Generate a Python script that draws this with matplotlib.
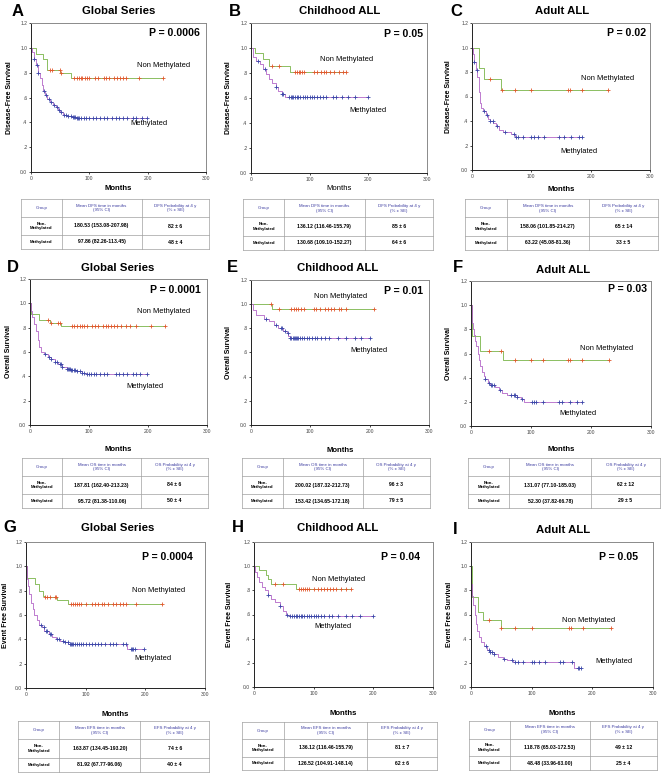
import matplotlib
matplotlib.use('Agg')
import matplotlib.pyplot as plt

plt.rcParams['font.family'] = ['Liberation Sans', 'DejaVu Sans']

# ---- data (months, survival fraction) ----
# each step list: (time of drop, survival after drop); curve starts at 1.0
# censor lists: follow-up times of censored patients (the "+" marks)

# A: disease-free survival, global series
a_non_steps = [(9, .95), (20, .91), (27, .82), (50, .795), (69, .76)]
a_non_cens = [32, 36, 49, 52, 74, 78, 82, 85, 88, 92, 96, 100, 110, 114, 125, 129,
              133, 143, 148, 153, 158, 163, 185, 227]
a_met_steps = [(2, .97), (5, .91), (9, .86), (12, .80), (15, .76), (18, .70), (21, .65),
               (24, .62), (28, .59), (32, .56), (37, .54), (42, .52), (46, .50), (50, .48),
               (55, .46), (62, .45), (70, .44), (78, .435)]
a_met_cens = [5, 10, 12, 22, 25, 30, 34, 40, 44, 48, 52, 56, 60, 64, 68, 72, 74, 76, 78,
              80, 83, 86, 90, 95, 100, 106, 112, 118, 125, 130, 138, 145, 150, 158, 165,
              175, 180, 190, 198]

# B: disease-free survival, childhood ALL
b_non_steps = [(7, .96), (20, .91), (30, .855), (67, .81)]
b_non_cens = [35, 48, 75, 78, 81, 84, 87, 90, 108, 112, 120, 124, 128, 135, 142, 150, 157, 162]
b_met_steps = [(3, .93), (9, .90), (15, .87), (21, .83), (25, .79), (30, .75), (36, .72),
               (42, .69), (46, .66), (52, .63), (58, .61), (64, .605)]
b_met_cens = [12, 24, 42, 52, 55, 65, 68, 70, 72, 75, 78, 80, 84, 88, 92, 96, 100, 104, 108,
              112, 118, 122, 128, 140, 145, 155, 165, 178, 200]

# C: disease-free survival, adult ALL
c_non_steps = [(12, .83), (20, .745), (49, .65)]
c_non_cens = [30, 50, 73, 100, 162, 165, 185, 230]
c_met_steps = [(2, .95), (4, .88), (7, .82), (9, .76), (11, .64), (13, .55), (16, .51),
               (19, .48), (23, .45), (27, .42), (31, .40), (36, .38), (41, .36), (45, .33),
               (53, .31), (66, .29), (73, .27)]
c_met_cens = [4, 8, 21, 25, 31, 35, 42, 55, 70, 74, 77, 86, 100, 104, 112, 122, 147, 155,
              167, 180, 185]

# D: overall survival, global series
d_non_steps = [(1, .91), (15, .865), (34, .835), (52, .815)]
d_non_cens = [30, 36, 48, 50, 72, 75, 80, 84, 88, 92, 96, 105, 110, 115, 124, 128, 132, 137,
              142, 148, 155, 162, 170, 180, 205, 228]
d_met_steps = [(1, .94), (4, .89), (7, .83), (10, .77), (13, .70), (16, .64), (19, .60),
               (24, .58), (30, .56), (36, .54), (42, .52), (48, .50), (55, .48), (62, .46),
               (70, .45), (80, .44), (88, .43), (95, .42)]
d_met_cens = [25, 32, 36, 42, 45, 50, 52, 55, 62, 64, 66, 68, 70, 72, 74, 76, 80, 84, 88, 92,
              96, 100, 104, 108, 112, 118, 125, 130, 145, 150, 158, 165, 175, 180, 186, 198]

# E: overall survival, childhood ALL
e_non_steps = [(35, .958)]
e_non_cens = [34, 48, 68, 72, 76, 80, 84, 90, 107, 110, 117, 125, 130, 135, 140, 148, 152,
              160, 207]
e_met_steps = [(4, .95), (8, .91), (22, .88), (30, .86), (38, .83), (46, .80), (54, .78),
               (60, .76), (63, .74), (65, .72)]
e_met_cens = [25, 42, 50, 53, 58, 62, 66, 68, 70, 72, 74, 76, 78, 80, 83, 86, 90, 94, 98,
              102, 108, 112, 118, 125, 132, 146, 160, 175, 186, 200]

# F: overall survival, adult ALL
f_non_steps = [(1, .748), (15, .623), (53, .546)]
f_non_cens = [30, 50, 73, 100, 120, 162, 165, 185, 230]
f_met_steps = [(1, .92), (2, .85), (3, .80), (5, .75), (7, .70), (9, .66), (11, .60),
               (13, .55), (15, .50), (18, .45), (21, .41), (24, .385), (28, .36), (32, .34),
               (40, .32), (46, .30), (52, .27), (60, .255), (76, .24), (84, .22), (89, .20)]
f_met_cens = [24, 30, 33, 35, 38, 48, 67, 71, 74, 77, 85, 102, 105, 108, 120, 146, 152, 165,
              176, 185]

# G: event free survival, global series
g_non_steps = [(1, .908), (15, .855), (22, .80), (28, .76), (32, .745), (52, .72), (70, .69)]
g_non_cens = [32, 35, 40, 48, 50, 75, 78, 82, 85, 88, 92, 100, 110, 115, 120, 128, 131, 138,
              145, 150, 158, 163, 167, 185, 228]
g_met_steps = [(1, .90), (3, .84), (5, .77), (8, .70), (11, .65), (14, .60), (18, .56),
               (22, .52), (26, .50), (31, .47), (38, .44), (44, .42), (50, .40), (57, .385),
               (64, .375), (71, .365), (170, .32)]
g_met_cens = [25, 30, 33, 36, 40, 42, 52, 55, 62, 66, 70, 73, 75, 77, 79, 82, 85, 88, 92, 96,
              100, 105, 110, 115, 120, 126, 132, 140, 145, 150, 162, 168, 176, 178, 180, 182,
              198]

# H: event free survival, childhood ALL
h_non_steps = [(8, .97), (20, .93), (23, .89), (28, .855), (70, .81)]
h_non_cens = [35, 48, 75, 78, 82, 85, 88, 92, 100, 108, 112, 118, 122, 128, 132, 138, 145,
              155, 162]
h_met_steps = [(2, .95), (5, .91), (9, .87), (14, .83), (19, .80), (23, .76), (29, .73),
               (36, .70), (43, .67), (48, .63), (53, .60), (60, .59)]
h_met_cens = [24, 44, 55, 60, 64, 67, 70, 72, 75, 78, 80, 84, 88, 92, 96, 100, 104, 108, 112,
              118, 125, 130, 140, 155, 165, 178, 200]

# I: event free survival, adult ALL
i_non_steps = [(1, .742), (12, .623), (20, .554), (50, .488)]
i_non_cens = [30, 50, 73, 100, 162, 165, 185, 230]
i_met_steps = [(0.5, .85), (2, .75), (4, .68), (6, .60), (8, .52), (10, .46), (13, .41),
               (17, .37), (21, .34), (26, .31), (32, .29), (38, .27), (45, .25), (52, .235),
               (60, .225), (70, .21), (170, .16)]
i_met_cens = [24, 30, 32, 35, 38, 55, 68, 72, 78, 86, 100, 104, 112, 122, 146, 152, 166, 176,
              178, 181]

letters = ['A', 'B', 'C', 'D', 'E', 'F', 'G', 'H', 'I']
titles = ['Global Series', 'Childhood ALL', 'Adult ALL'] * 3
ylabels = ['Disease-Free Survival'] * 3 + ['Overall Survival'] * 3 + ['Event Free Survival'] * 3
measures = ['DFS'] * 3 + ['OS'] * 3 + ['EFS'] * 3
pvalues = ['0.0006', '0.05', '0.02', '0.0001', '0.01', '0.03', '0.0004', '0.04', '0.05']

mean_non = ['180.53 (153.08-207.98)', '136.12 (116.46-155.79)', '158.06 (101.85-214.27)',
            '187.81 (162.40-213.23)', '200.02 (187.32-212.73)', '131.07 (77.10-185.03)',
            '163.87 (134.45-193.20)', '136.12 (116.46-155.79)', '118.78 (65.03-172.53)']
mean_met = ['97.86 (82.26-113.45)', '130.68 (109.10-152.27)', '63.22 (45.08-81.36)',
            '95.72 (81.38-110.06)', '153.42 (134.65-172.18)', '52.30 (37.82-66.78)',
            '81.92 (67.77-96.06)', '126.52 (104.91-148.14)', '48.48 (33.96-63.00)']
prob_non = ['82 ± 6', '85 ± 6', '65 ± 14', '84 ± 6', '96 ± 3', '62 ± 12', '74 ± 6', '81 ± 7',
            '49 ± 12']
prob_met = ['48 ± 4', '64 ± 6', '33 ± 5', '50 ± 4', '79 ± 5', '29 ± 5', '40 ± 4', '62 ± 6',
            '25 ± 4']

yticks = [0, .2, .4, .6, .8, 1.0, 1.2]
ytick_labels = ['0.0', '.2', '.4', '.6', '.8', '1.0', '1.2']
xticks = [0, 100, 200, 300]

curves = [
    (a_non_steps, a_non_cens, a_met_steps, a_met_cens),
    (b_non_steps, b_non_cens, b_met_steps, b_met_cens),
    (c_non_steps, c_non_cens, c_met_steps, c_met_cens),
    (d_non_steps, d_non_cens, d_met_steps, d_met_cens),
    (e_non_steps, e_non_cens, e_met_steps, e_met_cens),
    (f_non_steps, f_non_cens, f_met_steps, f_met_cens),
    (g_non_steps, g_non_cens, g_met_steps, g_met_cens),
    (h_non_steps, h_non_cens, h_met_steps, h_met_cens),
    (i_non_steps, i_non_cens, i_met_steps, i_met_cens),
]

# ---- layout, in pixels of the 662x775 picture ----
W, H = 662, 775
axes_px = [(31, 23, 206, 172), (251, 23, 427, 173), (472, 23, 650, 170),
           (30, 279, 207, 425), (251, 280, 429, 425), (471, 281, 651, 426),
           (26, 542, 205, 688), (254, 542, 433, 687), (471, 542, 653, 687)]
table_px = [(21, 199, 209, 249), (243, 199, 433, 250), (465, 199, 658, 250),
            (22, 458, 208, 508), (242, 458, 430, 508), (468, 458, 660, 508),
            (18, 721, 209, 772), (242, 722, 437, 770), (469, 721, 657, 770)]
title_px = [(119, 11), (340, 11), (562, 11), (118, 268), (338, 268), (563, 270),
            (118, 528), (338, 528), (563, 530)]
letter_px = [(12, 11), (229, 11), (450, 11), (7, 268), (227, 268), (453, 268),
             (3, 528), (232, 528), (453, 530)]
p_pos = [(.965, .933), (.975, .93), (.98, .93), (.965, .925), (.965, .925), (.975, .945),
         (.93, .90), (.93, .90), (.92, .90)]
non_lab = [(227, .86), (163, .905), (229, .745), (226, .93), (151, 1.06), (226, .64),
           (223, .80), (141, .89), (193, .55)]
met_lab = [(203, .39), (200, .50), (181, .15), (194, .32), (199, .62), (179, .10),
           (213, .24), (132, .50), (236, .21)]
ylab_x = [-.10, -.11, -.11, -.10, -.107, -.105, -.093, -.12, -.10]
months_y = [-.09, -.08, -.11, -.145, -.15, -.14, -.155, -.16, -.16]
months_weight = ['bold', 'normal', 'bold', 'bold', 'bold', 'bold', 'bold', 'bold', 'bold']

GREEN = '#78b448'
RED = '#e2572c'
PURPLE = '#b366c8'
BLUE = '#3a46a8'
HEAD_BLUE = '#3c3ca0'


def rect(l, t, r, b):
    return [l / W, 1 - b / H, (r - l) / W, (b - t) / H]


def level_at(steps, t):
    lvl = 1.0
    for st, s in steps:
        if st <= t:
            lvl = s
    return lvl


def draw_curve(ax, steps, cens, line_col, mark_col):
    end = max(cens)
    xs = [0] + [s[0] for s in steps] + [end]
    ys = [1.0] + [s[1] for s in steps] + [steps[-1][1]]
    ax.step(xs, ys, where='post', color=line_col, lw=0.6)
    cy = [level_at(steps, c) for c in cens]
    ax.plot(cens, cy, ls='none', marker='+', ms=3.2, mew=0.6, color=mark_col)


def draw_table(fig, box, measure, non_mean, non_prob, met_mean, met_prob):
    ax = fig.add_axes(rect(*box))
    ax.set_xlim(0, 1)
    ax.set_ylim(0, 1)
    ax.axis('off')
    cols = [0, 0.216, 0.641, 1]
    rows = [1, 0.64, 0.28, 0]
    for x in cols:
        ax.plot([x, x], [0, 1], color='#a0a0a0', lw=0.5, clip_on=False)
    for y in rows:
        ax.plot([0, 1], [y, y], color='#a0a0a0', lw=0.5, clip_on=False)
    cx = [(cols[k] + cols[k + 1]) / 2 for k in range(3)]
    cy = [(rows[k] + rows[k + 1]) / 2 for k in range(3)]
    header = ['Group', f'Mean {measure} time in months\n(95% CI)',
              f'{measure} Probability at 4 y\n(% ± SE)']
    for k in range(3):
        ax.text(cx[k], cy[0], header[k], ha='center', va='center', fontsize=3.2,
                color=HEAD_BLUE, linespacing=1.3)
    body = [['Non-\nMethylated', non_mean, non_prob], ['Methylated', met_mean, met_prob]]
    for r in range(2):
        for k in range(3):
            fs = 3.2 if k == 0 else 3.7
            ax.text(cx[k], cy[r + 1], body[r][k], ha='center', va='center', fontsize=fs,
                    fontweight='bold', color='black', linespacing=1.2)


fig = plt.figure(figsize=(W / 100, H / 100), dpi=100)

for n in range(9):
    ax = fig.add_axes(rect(*axes_px[n]))
    non_steps, non_cens, met_steps, met_cens = curves[n]
    draw_curve(ax, non_steps, non_cens, GREEN, RED)
    draw_curve(ax, met_steps, met_cens, PURPLE, BLUE)

    ax.set_xlim(0, 300)
    ax.set_ylim(0, 1.2)
    ax.set_xticks(xticks)
    ax.set_yticks(yticks)
    ax.set_yticklabels(ytick_labels)
    ax.tick_params(labelsize=3.6, length=1.5, width=0.5, pad=1.2, labelcolor='#444444')
    for side in ['left', 'bottom']:
        ax.spines[side].set_linewidth(0.7)
        ax.spines[side].set_color('#222222')
    for side in ['top', 'right']:
        ax.spines[side].set_linewidth(0.7)
        ax.spines[side].set_color('#8a8a8a')

    ax.set_ylabel(ylabels[n], fontsize=5.0, fontweight='bold')
    ax.yaxis.set_label_coords(ylab_x[n], 0.5)
    ax.set_xlabel('Months', fontsize=5.6, fontweight=months_weight[n])
    ax.xaxis.set_label_coords(0.5, months_y[n])

    ax.text(p_pos[n][0], p_pos[n][1], f'P = {pvalues[n]}', transform=ax.transAxes,
            ha='right', va='center', fontsize=7.6, fontweight='bold')
    ax.text(non_lab[n][0], non_lab[n][1], 'Non Methylated', ha='center', va='center',
            fontsize=5.4)
    ax.text(met_lab[n][0], met_lab[n][1], 'Methylated', ha='center', va='center',
            fontsize=5.4)

    fig.text(title_px[n][0] / W, 1 - title_px[n][1] / H, titles[n], ha='center',
             va='center', fontsize=8.2, fontweight='bold')
    fig.text(letter_px[n][0] / W, 1 - letter_px[n][1] / H, letters[n], ha='left',
             va='center', fontsize=12, fontweight='bold')

    draw_table(fig, table_px[n], measures[n], mean_non[n], prob_non[n], mean_met[n],
               prob_met[n])

fig.savefig('out.png', dpi=100)
